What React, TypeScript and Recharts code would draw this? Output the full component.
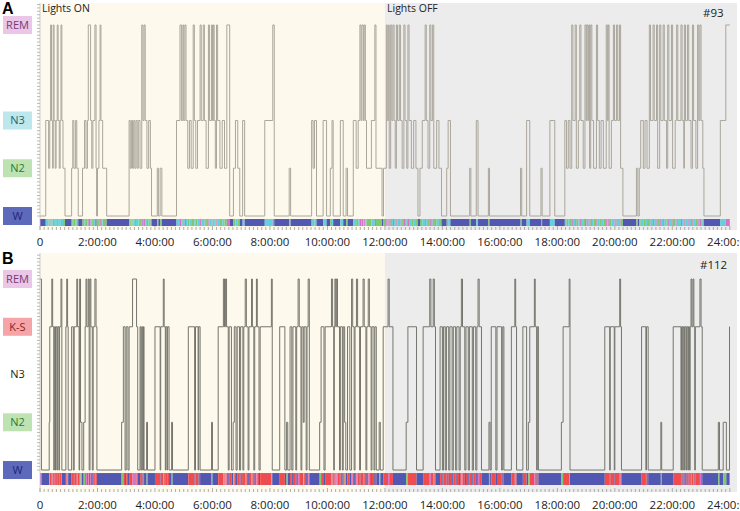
import React from "react";
import { ComposedChart, Line, XAxis, YAxis, ReferenceArea } from "recharts";

// stage codes on the y scale
const W = 0;
const N2 = 1;
const N3 = 2;
const KS = 3;
const REM = 4;

// [hour, stage] — stage holds until the next entry
const hypnoA: [number, number][] = [
  [0, W], [0.2, N3], [0.3, N2], [0.34, N3], [0.37, REM], [0.4, N3], [0.44, N2], [0.46, REM], [0.49, N3],
  [0.53, N2], [0.56, N3], [0.6, REM], [0.63, N3], [0.67, N2], [0.7, N3], [0.73, REM], [0.76, N3], [0.8, N2],
  [0.87, W], [1.1, N2], [1.14, N3], [1.18, N2], [1.24, N3], [1.28, N2], [1.33, W], [1.48, N2], [1.55, N3],
  [1.6, N2], [1.65, N3], [1.68, REM], [1.76, N3], [1.8, N2], [1.84, N3], [1.91, REM], [1.95, N2], [1.97, W],
  [2.0, N2], [2.05, N3], [2.09, REM], [2.12, N3], [2.18, N2], [2.32, W], [3.1, N3], [3.14, N2], [3.18, N3],
  [3.22, N2], [3.26, N3], [3.3, N2], [3.34, N3], [3.38, N2], [3.42, N3], [3.48, N2], [3.54, REM], [3.58, N3],
  [3.62, REM], [3.66, N3], [3.72, N2], [3.78, N3], [3.84, N2], [3.88, W], [4.08, N2], [4.12, W], [4.18, N2],
  [4.24, W], [4.75, N3], [4.87, REM], [4.92, N3], [4.97, REM], [5.0, N3], [5.04, REM], [5.08, N3], [5.14, N2],
  [5.2, N3], [5.26, N2], [5.33, REM], [5.37, N3], [5.42, N2], [5.48, N3], [5.57, REM], [5.61, N3], [5.68, REM],
  [5.72, N3], [5.78, N2], [5.86, REM], [5.9, N3], [5.97, REM], [6.0, N3], [6.03, REM], [6.06, N3], [6.1, N2],
  [6.14, REM], [6.18, N3], [6.26, N2], [6.34, N3], [6.42, N2], [6.5, REM], [6.6, W], [6.73, N2], [6.8, N3],
  [6.88, N2], [6.95, W], [7.05, N3], [7.12, W], [7.82, N3], [8.1, REM], [8.15, W], [8.67, N2], [8.72, W],
  [9.45, N3], [9.5, N2], [9.55, N3], [9.62, W], [9.85, N3], [9.97, W], [10.1, N2], [10.16, N3], [10.2, W],
  [10.45, N3], [10.55, W], [10.65, N2], [10.7, W], [10.9, N3], [11.0, N2], [11.07, N3], [11.13, REM], [11.17, N3],
  [11.2, REM], [11.25, N3], [11.28, REM], [11.32, N3], [11.36, N2], [11.53, N3], [11.65, REM], [11.69, N2],
  [11.9, W], [11.95, N2], [12.05, REM], [12.08, N3], [12.12, REM], [12.15, N2], [12.2, REM], [12.24, N3],
  [12.28, REM], [12.32, N3], [12.36, N2], [12.4, REM], [12.44, N3], [12.5, REM], [12.54, N3], [12.6, N2],
  [12.66, REM], [12.7, N3], [12.76, N2], [12.8, REM], [12.84, N3], [12.92, N2], [13.0, N3], [13.08, N2],
  [13.15, W], [13.22, N2], [13.3, N3], [13.4, REM], [13.44, N3], [13.5, N2], [13.56, REM], [13.6, N3],
  [13.66, REM], [13.7, N2], [13.8, N3], [13.88, N2], [13.97, W], [14.15, N2], [14.2, N3], [14.28, W],
  [14.95, N2], [14.99, W], [15.18, N3], [15.24, W], [15.6, N2], [15.64, W], [16.72, N2], [16.76, W],
  [16.93, N3], [17.04, W], [17.43, N2], [17.47, W], [17.74, N3], [17.91, W], [18.26, N3], [18.32, N2],
  [18.38, N3], [18.44, N2], [18.5, REM], [18.54, N3], [18.62, REM], [18.66, N2], [18.73, N3], [18.78, REM],
  [18.82, N3], [18.9, N2], [18.96, REM], [19.0, N3], [19.02, REM], [19.06, N3], [19.09, REM], [19.12, N2],
  [19.16, REM], [19.2, N3], [19.26, N2], [19.36, REM], [19.4, N3], [19.46, N2], [19.52, N3], [19.6, N2],
  [19.7, REM], [19.74, N3], [19.77, REM], [19.8, N2], [19.88, N3], [19.95, REM], [19.99, N3], [20.06, REM],
  [20.1, N3], [20.16, REM], [20.2, N2], [20.28, W], [20.75, N2], [20.8, W], [20.85, N2], [20.9, N3],
  [20.99, N2], [21.05, N3], [21.12, N2], [21.2, REM], [21.24, N3], [21.33, REM], [21.37, N3], [21.45, REM],
  [21.49, N2], [21.56, REM], [21.6, N3], [21.68, REM], [21.72, N3], [21.8, N2], [21.84, REM], [21.88, N3],
  [21.97, REM], [22.01, N2], [22.1, N3], [22.15, REM], [22.19, N3], [22.3, REM], [22.34, N3], [22.4, N2],
  [22.42, REM], [22.46, N3], [22.53, REM], [22.57, N3], [22.65, N2], [22.7, REM], [22.74, N3], [22.82, N2],
  [22.88, REM], [22.92, N3], [22.96, REM], [23.0, N3], [23.06, N2], [23.1, W], [23.67, N3], [23.86, REM],
];

const hypnoB: [number, number][] = [
  [0, REM], [0.05, W], [0.32, N2], [0.34, KS], [0.41, REM], [0.44, KS], [0.48, W], [0.5, KS], [0.54, W],
  [0.56, KS], [0.6, W], [0.62, KS], [0.66, W], [0.68, KS], [0.73, REM], [0.76, W], [0.9, KS], [0.93, REM],
  [0.96, KS], [0.98, W], [1.1, KS], [1.16, W], [1.19, KS], [1.28, REM], [1.31, KS], [1.36, W], [1.38, REM],
  [1.41, N2], [1.46, W], [1.52, N2], [1.57, KS], [1.6, REM], [1.63, KS], [1.68, REM], [1.71, W], [1.74, REM],
  [1.77, KS], [1.82, W], [1.85, KS], [1.91, REM], [1.95, KS], [1.98, W], [2.84, N2], [2.9, KS], [2.96, W],
  [3.0, KS], [3.06, W], [3.1, KS], [3.22, REM], [3.36, KS], [3.4, W], [3.48, KS], [3.51, W], [3.54, KS],
  [3.57, W], [3.6, KS], [3.62, W], [3.71, N2], [3.74, W], [4.0, KS], [4.18, W], [4.2, KS], [4.29, REM],
  [4.32, KS], [4.36, W], [4.38, KS], [4.42, W], [4.44, KS], [4.49, W], [4.58, N2], [4.61, W], [5.16, KS],
  [5.38, W], [5.41, KS], [5.5, W], [5.52, KS], [5.57, W], [5.97, N2], [6.0, W], [6.2, KS], [6.38, REM],
  [6.42, KS], [6.45, REM], [6.49, KS], [6.55, W], [6.58, KS], [6.66, W], [6.72, N2], [6.76, KS], [6.82, W],
  [6.86, KS], [6.94, W], [6.98, KS], [7.06, W], [7.09, KS], [7.14, REM], [7.18, KS], [7.24, W], [7.27, KS],
  [7.36, REM], [7.39, KS], [7.44, W], [7.47, KS], [7.53, REM], [7.56, KS], [7.62, W], [7.66, KS], [8.05, REM],
  [8.08, W], [8.34, KS], [8.52, W], [8.58, N2], [8.62, W], [8.7, KS], [8.76, W], [8.8, KS], [8.9, W],
  [8.93, KS], [8.98, REM], [9.02, KS], [9.08, W], [9.11, KS], [9.16, N2], [9.19, KS], [9.26, W], [9.29, KS],
  [9.33, REM], [9.37, W], [9.73, N2], [9.78, KS], [9.88, W], [9.92, KS], [10.14, REM], [10.18, KS], [10.22, W],
  [10.24, KS], [10.26, REM], [10.29, KS], [10.31, REM], [10.35, KS], [10.42, W], [10.45, KS], [10.52, W],
  [10.55, KS], [10.6, N2], [10.64, W], [10.7, KS], [10.78, W], [10.84, REM], [10.88, KS], [10.93, W],
  [10.96, KS], [11.01, REM], [11.05, KS], [11.12, W], [11.15, KS], [11.24, REM], [11.28, KS], [11.34, W],
  [11.37, KS], [11.42, REM], [11.46, KS], [11.52, W], [11.55, KS], [11.62, W], [11.65, KS], [11.7, W],
  [11.8, N2], [11.84, W], [11.94, KS], [12.11, REM], [12.15, KS], [12.28, W], [12.74, N2], [12.8, KS],
  [13.1, W], [13.33, KS], [13.56, REM], [13.6, KS], [13.68, REM], [13.72, KS], [13.76, W], [13.92, KS],
  [14.0, W], [14.04, KS], [14.1, W], [14.14, KS], [14.22, W], [14.26, KS], [14.34, W], [14.38, KS], [14.46, W],
  [14.5, KS], [14.58, W], [14.62, KS], [14.66, REM], [14.7, KS], [14.78, W], [14.82, KS], [14.9, W], [14.94, KS],
  [15.04, W], [15.08, KS], [15.16, W], [15.2, KS], [15.24, REM], [15.28, KS], [15.36, W], [15.62, N2],
  [15.66, W], [15.7, KS], [15.86, W], [15.9, KS], [16.06, W], [16.1, KS], [16.14, W], [16.4, KS], [16.52, REM],
  [16.55, KS], [16.58, W], [16.8, KS], [16.93, W], [16.99, N2], [17.04, KS], [17.2, REM], [17.23, KS],
  [17.28, W], [17.3, KS], [17.34, W], [18.14, N2], [18.2, KS], [18.41, REM], [18.44, W], [19.65, KS],
  [19.82, W], [19.84, KS], [19.98, W], [20.0, KS], [20.17, REM], [20.2, KS], [20.23, W], [20.93, KS],
  [21.08, W], [21.1, KS], [21.16, W], [21.6, N2], [21.63, W], [22.03, KS], [22.3, W], [22.32, KS], [22.36, W],
  [22.38, KS], [22.42, W], [22.44, KS], [22.48, W], [22.5, KS], [22.54, W], [22.56, KS], [22.6, W],
  [22.62, KS], [22.65, REM], [22.68, KS], [22.72, REM], [22.75, KS], [22.78, W], [22.8, KS], [22.96, REM],
  [23.0, KS], [23.04, W], [23.6, N2], [23.64, W], [23.77, N2], [23.88, W], [23.99, KS],
];

const hourTicks = [0, 2, 4, 6, 8, 10, 12, 14, 16, 18, 20, 22, 24];
const hourLabels = ["0", "2:00:00", "4:00:00", "6:00:00", "8:00:00", "10:00:00", "12:00:00",
  "14:00:00", "16:00:00", "18:00:00", "20:00:00", "22:00:00", "24:00:00"];

const stageNamesA: Record<number, string> = { 0: "W", 1: "N2", 2: "N3", 4: "REM" };
const stageNamesB: Record<number, string> = { 0: "W", 1: "N2", 2: "N3", 3: "K-S", 4: "REM" };

const BOX: Record<string, { fill: string; text: string }> = {
  W: { fill: "#5d69bb", text: "#1d2877" },
  N2: { fill: "#bfe2b3", text: "#2b7a2e" },
  N3: { fill: "#bde7ec", text: "#1b6670" },
  "K-S": { fill: "#f5a5a7", text: "#8a1f26" },
  REM: { fill: "#ebc6e6", text: "#773a76" },
};

const STRIP: Record<number, string> = {
  0: "#5258b2",
  1: "#7cc96f",
  2: "#62d1db",
  3: "#ef4c50",
  4: "#d672c8",
};

const FONT = "'Open Sans', sans-serif";

const xTicks = Array.from({ length: 24 * 7 + 1 }, (_, k) => k / 7);

function makeYTicks(top: number) {
  const out: number[] = [];
  for (let k = 0; k / 14 <= top; k++) out.push(k / 14);
  return out;
}

function toRows(h: [number, number][]) {
  const rows = h.map(([t, s]) => ({ t, s }));
  rows.push({ t: 24, s: h[h.length - 1][1] });
  return rows;
}

type PanelProps = {
  hypno: [number, number][];
  names: Record<number, string>;
  plain?: string[];
  width: number;
  height: number;
  marginTop: number;
  xHeight: number;
  yDomain: [number, number];
  strip: [number, number];
  lineColor: string;
  labelDy: number;
};

function Panel(p: PanelProps) {
  const rows = toRows(p.hypno);
  const yTicks = makeYTicks(p.yDomain[1]);

  const renderYTick = (props: any) => {
    const { x, y, payload } = props;
    const v = payload.value;
    const isStage = Math.abs(v - Math.round(v)) < 1e-6;
    const name = isStage ? p.names[Math.round(v)] : undefined;
    const plain = name && p.plain && p.plain.includes(name);
    return (
      <g>
        <line x1={x - 3} x2={x} y1={y} y2={y} stroke="#a8a8a8" strokeWidth={0.8} />
        {name && !plain && (
          <rect x={x - 37} y={y - 9} width={29} height={18} fill={BOX[name].fill} />
        )}
        {name && (
          <text x={x - 22.5} y={y} dy="0.36em" textAnchor="middle" fontSize={11} fontFamily={FONT}
            fill={plain ? "#222" : BOX[name].text}>
            {name}
          </text>
        )}
      </g>
    );
  };

  const renderXTick = (props: any) => {
    const { x, y, payload } = props;
    const k = Math.round(payload.value * 7);
    const major = k % 14 === 0;
    const label = major ? hourLabels[hourTicks.indexOf(payload.value)] : null;
    return (
      <g>
        <line x1={x} x2={x} y1={y - (major ? 4 : 3)} y2={y} stroke="#9c9c9c" strokeWidth={0.8} />
        {label && (
          <text x={x} y={y + p.labelDy} dy="0.36em" textAnchor="middle" fontSize={11.5}
            fontFamily={FONT} fill="#222">
            {label}
          </text>
        )}
      </g>
    );
  };

  const segs = p.hypno.map(([t, s], i) => ({
    x1: t,
    x2: i + 1 < p.hypno.length ? p.hypno[i + 1][0] : 24,
    s,
  }));

  return (
    <ComposedChart width={p.width} height={p.height} data={rows}
      margin={{ top: p.marginTop, right: 3, bottom: 0, left: 0 }}>
      <XAxis dataKey="t" type="number" domain={[0, 24.25]} ticks={xTicks} interval={0}
        tickSize={0} tickMargin={0} axisLine={false} height={p.xHeight} tick={renderXTick}
        allowDataOverflow />
      <YAxis type="number" domain={p.yDomain} ticks={yTicks} interval={0} tickSize={0}
        tickMargin={0} width={40} axisLine={{ stroke: "#c4c4c4", strokeWidth: 0.8 }} tick={renderYTick}
        allowDataOverflow />
      <ReferenceArea x1={0} x2={12} fill="#fdf9ec" fillOpacity={1} />
      <ReferenceArea x1={12} x2={24.25} fill="#ececec" fillOpacity={1} />
      {segs.map((g, i) => (
        <ReferenceArea key={i} x1={g.x1} x2={g.x2} y1={p.strip[0]} y2={p.strip[1]}
          fill={STRIP[g.s]} fillOpacity={1} />
      ))}
      <Line dataKey="s" type="stepAfter" stroke={p.lineColor} strokeWidth={1} dot={false}
        activeDot={false} isAnimationActive={false} />
    </ComposedChart>
  );
}

export default function App() {
  return (
    <div style={{ position: "absolute", left: 0, top: 0, width: 740, height: 511, background: "#fff" }}>
      <div style={{ position: "absolute", left: 0, top: 0 }}>
        <Panel hypno={hypnoA} names={stageNamesA} width={740} height={250} marginTop={3} xHeight={20}
          yDomain={[-0.293, 4.46]} strip={[-0.21, -0.063]} lineColor="#aaa69b" labelDy={12} />
      </div>
      <div style={{ position: "absolute", left: 0, top: 250 }}>
        <Panel hypno={hypnoB} names={stageNamesB} plain={["N3"]} width={740} height={261} marginTop={3}
          xHeight={19} yDomain={[-0.46, 4.545]} strip={[-0.314, -0.063]} lineColor="#75756d" labelDy={12.5} />
      </div>
      <svg width={740} height={511} style={{ position: "absolute", left: 0, top: 0, pointerEvents: "none" }}>
        <text x={2} y={14} fontSize={16} fontWeight="bold" fontFamily="'Liberation Sans', Arial, sans-serif" fill="#000">A</text>
        <text x={2} y={264} fontSize={16} fontWeight="bold" fontFamily="'Liberation Sans', Arial, sans-serif" fill="#000">B</text>
        <text x={42} y={12} fontSize={10.5} fontFamily={FONT} fill="#222">Lights ON</text>
        <text x={387} y={12} fontSize={10.5} fontFamily={FONT} fill="#222">Lights OFF</text>
        <text x={703} y={17} fontSize={11.5} fontFamily={FONT} fill="#222">#93</text>
        <text x={700} y={269} fontSize={11.5} fontFamily={FONT} fill="#222">#112</text>
      </svg>
    </div>
  );
}
